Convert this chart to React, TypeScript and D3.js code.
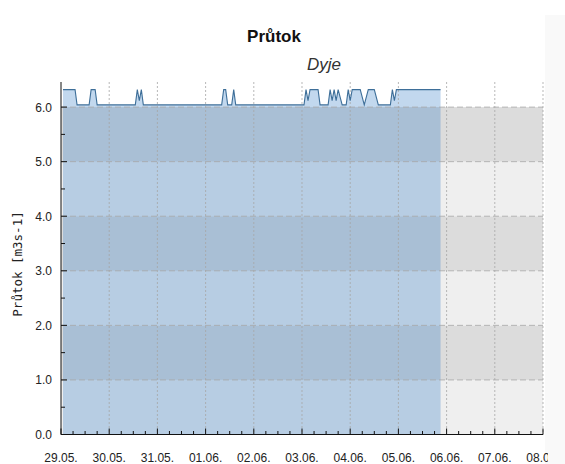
import React, { useEffect, useRef } from 'react';
import * as d3 from 'd3';

// hours since 29.05. 00:00 and flow values
const flowHours = [
  1, 7, 8, 14, 15, 17, 18, 37, 38, 39, 40, 41, 80, 81, 82, 83, 85, 86, 87, 121, 122, 123, 124,
  128, 129, 133, 134, 135, 136, 137, 138, 140, 142, 143, 144, 145, 149, 151, 153, 156, 158, 164,
  165, 166, 167, 189,
];
const flowValues = [
  6.32, 6.32, 6.04, 6.04, 6.32, 6.32, 6.04, 6.04, 6.32, 6.12, 6.32, 6.04, 6.04, 6.32, 6.32, 6.04,
  6.04, 6.32, 6.04, 6.04, 6.32, 6.12, 6.32, 6.32, 6.04, 6.04, 6.32, 6.12, 6.32, 6.12, 6.32, 6.04,
  6.04, 6.32, 6.12, 6.32, 6.32, 6.04, 6.32, 6.32, 6.04, 6.04, 6.32, 6.12, 6.32, 6.32,
];
const yTicks = [0, 1, 2, 3, 4, 5, 6];
const title = 'Průtok';
const subtitle = 'Dyje';
const yTitle = 'Průtok [m3s-1]';

const W = 565,
  H = 464;
const left = 61,
  right = 543,
  top = 82,
  bottom = 434.5;

const App = () => {
  const ref = useRef(null);

  useEffect(() => {
    const svg = d3.select(ref.current);
    svg.selectAll('*').remove();

    const start = new Date(Date.UTC(2020, 4, 29));
    const end = new Date(Date.UTC(2020, 5, 8));
    const x = d3.scaleUtc().domain([start, end]).range([left, right]);
    const y = d3.scaleLinear().domain([0, 6.46]).range([bottom, top]);
    const t = (h) => new Date(start.getTime() + h * 3600e3);
    const data = flowHours.map((h, i) => ({ d: t(h), v: flowValues[i] }));

    svg
      .append('defs')
      .append('clipPath')
      .attr('id', 'chartclip')
      .append('rect')
      .attr('width', 548)
      .attr('height', H);

    svg.append('rect').attr('width', W).attr('height', H).attr('fill', 'white');
    svg.append('rect').attr('x', 545).attr('y', 15).attr('width', 20).attr('height', H).attr('fill', '#f9f9f9');

    // Bands
    d3.range(0, 6).forEach((k) => {
      svg
        .append('rect')
        .attr('x', left)
        .attr('y', y(k + 1))
        .attr('width', right - left)
        .attr('height', y(k) - y(k + 1))
        .attr('fill', k % 2 === 0 ? '#efefef' : '#dcdcdc');
    });

    // Area
    const area = d3
      .area()
      .x((d) => x(d.d))
      .y0(y(0))
      .y1((d) => y(d.v));
    svg.append('path').datum(data).attr('d', area).attr('fill', 'rgba(52,125,198,0.3)');

    // Grid
    yTicks
      .filter((v) => v > 0)
      .forEach((v) => {
        svg
          .append('line')
          .attr('x1', left)
          .attr('x2', right)
          .attr('y1', y(v))
          .attr('y2', y(v))
          .attr('stroke', '#a6a6a6')
          .attr('stroke-opacity', 0.8)
          .attr('stroke-dasharray', '6,3');
      });
    const days = d3.utcDay.range(start, d3.utcDay.offset(end, 1));
    days.slice(1).forEach((d) => {
      svg
        .append('line')
        .attr('x1', x(d))
        .attr('x2', x(d))
        .attr('y1', top)
        .attr('y2', bottom)
        .attr('stroke', '#a6a6a6')
        .attr('stroke-opacity', 0.8)
        .attr('stroke-dasharray', '2,2');
    });

    // Line
    const line = d3
      .line()
      .x((d) => x(d.d))
      .y((d) => y(d.v));
    svg
      .append('path')
      .datum(data)
      .attr('d', line)
      .attr('fill', 'none')
      .attr('stroke', '#3e6f99')
      .attr('stroke-width', 1.1);

    // Axes
    svg.append('line').attr('x1', left).attr('x2', left).attr('y1', top).attr('y2', bottom).attr('stroke', '#111');
    svg.append('line').attr('x1', left).attr('x2', right).attr('y1', bottom).attr('y2', bottom).attr('stroke', '#111');

    d3.range(0, 6.5, 0.5).forEach((v) => {
      const major = Number.isInteger(v);
      svg
        .append('line')
        .attr('x1', left)
        .attr('x2', left + (major ? 6 : 4))
        .attr('y1', y(v))
        .attr('y2', y(v))
        .attr('stroke', '#111');
    });
    yTicks.forEach((v) => {
      svg
        .append('text')
        .attr('x', 52)
        .attr('y', y(v) + 4.5)
        .attr('text-anchor', 'end')
        .attr('font-family', 'Liberation Sans, Arial, sans-serif')
        .attr('font-size', 12)
        .attr('fill', '#222')
        .text(v.toFixed(1));
    });

    d3.utcHour.every(6).range(start, d3.utcHour.offset(end, 1)).forEach((d) => {
      const major = d.getUTCHours() === 0;
      svg
        .append('line')
        .attr('x1', x(d))
        .attr('x2', x(d))
        .attr('y1', bottom)
        .attr('y2', bottom - (major ? 6 : 3.5))
        .attr('stroke', '#111');
    });
    const fmt = d3.utcFormat('%d.%m.');
    const labels = svg.append('g').attr('clip-path', 'url(#chartclip)');
    days.forEach((d) => {
      labels
        .append('text')
        .attr('x', x(d))
        .attr('y', 462)
        .attr('text-anchor', 'middle')
        .attr('font-family', 'Liberation Sans, Arial, sans-serif')
        .attr('font-size', 12)
        .attr('fill', '#222')
        .text(fmt(d));
    });

    // Titles
    svg
      .append('text')
      .attr('x', 274)
      .attr('y', 42)
      .attr('text-anchor', 'middle')
      .attr('font-family', 'Liberation Sans, Arial, sans-serif')
      .attr('font-size', 17)
      .attr('font-weight', 'bold')
      .attr('fill', '#111')
      .text(title);
    svg
      .append('text')
      .attr('x', 324)
      .attr('y', 70)
      .attr('text-anchor', 'middle')
      .attr('font-family', 'Liberation Sans, Arial, sans-serif')
      .attr('font-size', 17)
      .attr('font-style', 'italic')
      .attr('fill', '#333')
      .text(subtitle);
    svg
      .append('text')
      .attr('transform', 'translate(22,264)rotate(-90)')
      .attr('text-anchor', 'middle')
      .attr('font-family', 'DejaVu Sans Mono, monospace')
      .attr('font-size', 12.5)
      .attr('fill', '#222')
      .text(yTitle);
  }, []);

  return (
    <svg
      ref={ref}
      width={W}
      height={H}
      style={{ position: 'absolute', left: 0, top: 0 }}
    />
  );
};

export default App;
